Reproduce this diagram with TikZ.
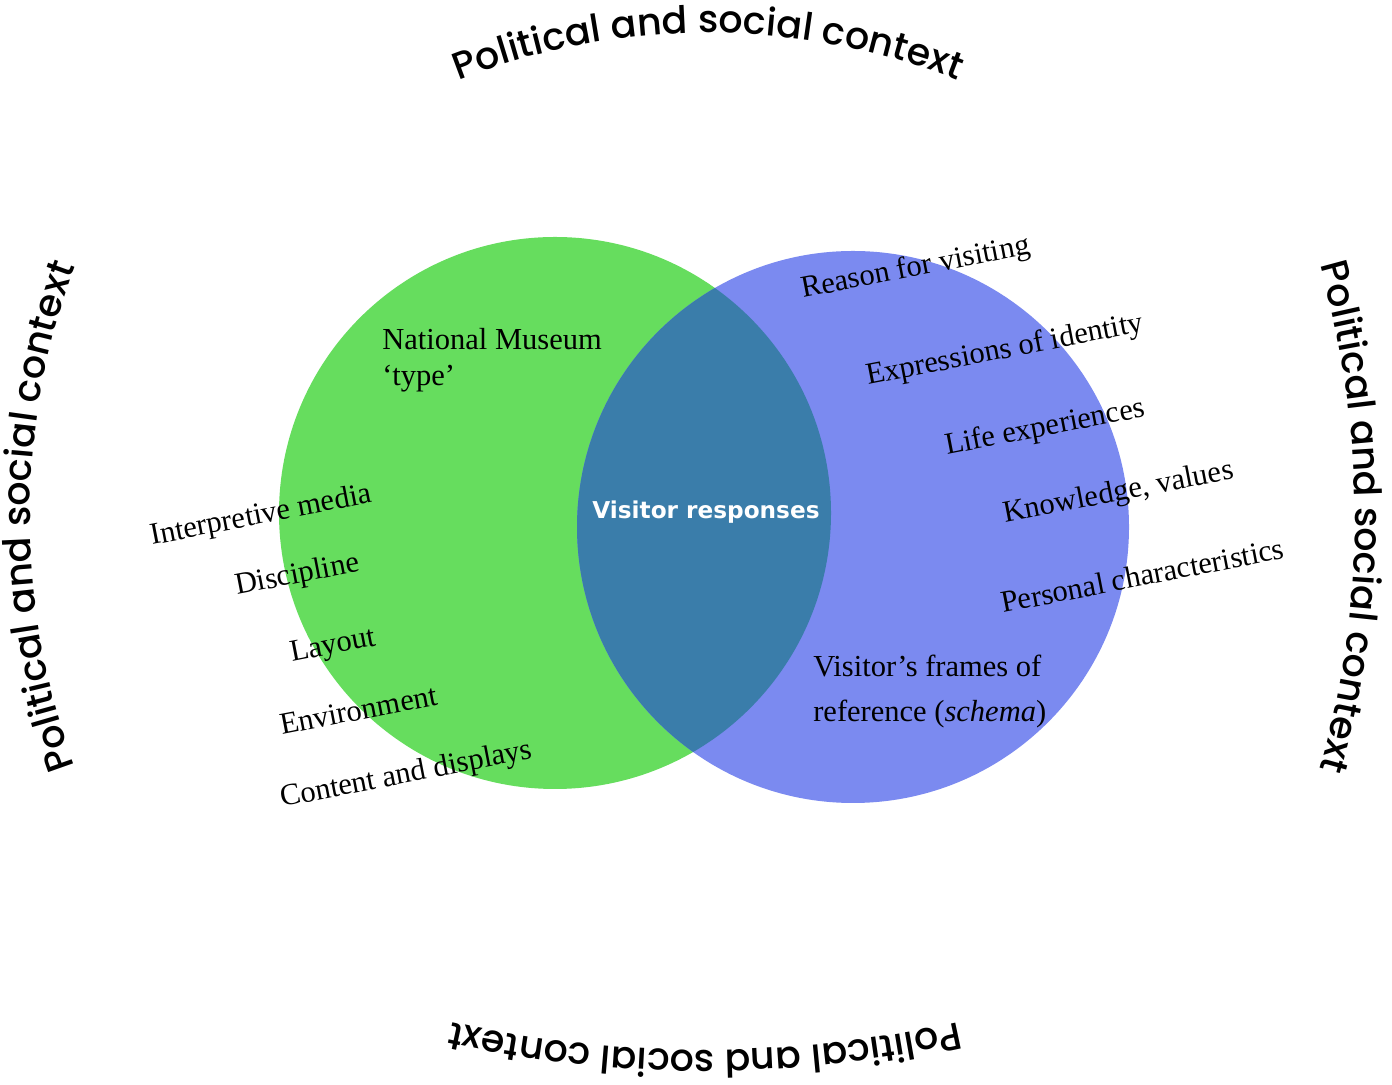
\documentclass[tikz,border=0pt]{standalone}
\usepackage{fontspec}
\setmainfont{Liberation Serif}
\newfontfamily\arcfont{Poppins}[UprightFont={* Medium}]
\newfontfamily\headfont{DejaVu Sans}
\usetikzlibrary{decorations.text}
\definecolor{museumgreen}{RGB}{102,221,94}
\definecolor{visitorblue}{RGB}{123,138,240}
\definecolor{overlapblue}{RGB}{58,125,170}
\newcommand\ctxfont{\arcfont\fontsize{27}{30}\selectfont}
\newcommand\itemfont{\fontsize{21.7}{25}\selectfont}

\begin{document}
\begin{tikzpicture}[x=0.025cm, y=0.025cm,
    item/.style={anchor=base west, rotate=11, inner sep=0pt, font=\itemfont},
    ctx/.style={decorate, decoration={text along path, text align=center,
        text={|\ctxfont|Political and social context}}}]
    \useasboundingbox (0,0) rectangle (1392,1084);

    % museum and visitor circles, overlap on top
    \fill[museumgreen] (555,571) circle[radius=276];
    \fill[visitorblue] (853,557) circle[radius=276];
    \begin{scope}
      \clip (555,571) circle[radius=276];
      \fill[overlapblue] (853,557) circle[radius=276];
    \end{scope}

    % surrounding context, clockwise
    \path[ctx] (708,369) ++(125:682) arc[start angle=125, end angle=55, radius=682];
    \path[ctx] (430,567) ++(27:925) arc[start angle=27, end angle=-27, radius=925];
    \path[ctx] (705,1198) ++(290:1164) arc[start angle=290, end angle=250, radius=1164];
    \path[ctx] (747,567) ++(215:717) arc[start angle=215, end angle=145, radius=717];

    % museum side (base is the last line)
    \node (national) [anchor=base west, inner sep=0pt, align=left,
      font=\fontsize{21.7}{26.3}\selectfont] at (382,698) {National Museum\\`type'};
    \node (interpretive) [item] at (152,539) {Interpretive media};
    \node (discipline) [item] at (237,489) {Discipline};
    \node (layout) [item] at (292,422) {Layout};
    \node (environment) [item] at (282,349) {Environment};
    \node (content) [item] at (282,277) {Content and displays};

    % visitor side
    \node (reason) [item] at (803,786) {Reason for visiting};
    \node (identity) [item] at (868,699) {Expressions of identity};
    \node (life) [item] at (947,629) {Life experiences};
    \node (knowledge) [item] at (1005,561) {Knowledge, values};
    \node (personal) [item] at (1003,471) {Personal characteristics};
    \node (frames) [anchor=base west, inner sep=0pt, align=left,
      font=\fontsize{21.7}{32}\selectfont] at (813,362)
      {Visitor's frames of\\reference (\textit{schema})};

    % overlap
    \node (responses) [anchor=base, text=white,
      font=\headfont\bfseries\fontsize{16.5}{20}\selectfont] at (706,565) {Visitor responses};
\end{tikzpicture}
\end{document}
